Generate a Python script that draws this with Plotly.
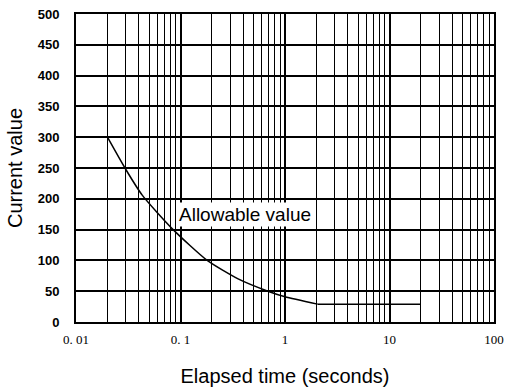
import plotly.graph_objects as go

# Data
curve_time = [0.02, 0.0294, 0.043, 0.085, 0.18, 0.356, 0.687, 1.0, 2.05]
curve_current = [300, 250, 206, 150, 100, 70, 50, 41, 29]
flat_time = [2.05, 20.0]
flat_current = [29, 29]

x_tick_vals = [0.01, 0.1, 1, 10, 100]
x_tick_text = ["0. 01", "0. 1", "1", "10", "100"]
decades = [0.01, 0.1, 1, 10]
minor_mults = [2, 3, 4, 5, 6, 7, 8, 9]
x_minor_vals = [d * m for d in decades for m in minor_mults]
y_tick_vals = [0, 50, 100, 150, 200, 250, 300, 350, 400, 450, 500]

fig = go.Figure()
fig.add_trace(go.Scatter(
    x=curve_time, y=curve_current, mode="lines",
    line=dict(color="black", width=1.5, shape="spline", smoothing=0.6),
    showlegend=False, hoverinfo="skip",
))
fig.add_trace(go.Scatter(
    x=flat_time, y=flat_current, mode="lines",
    line=dict(color="black", width=1.5),
    showlegend=False, hoverinfo="skip",
))

fig.add_annotation(
    x=-0.383, y=174, xref="x", yref="y",
    text="Allowable value", showarrow=False,
    font=dict(family="Liberation Sans, Arial, sans-serif", size=19, color="black"),
    bgcolor="white", borderpad=1,
)

fig.update_layout(
    width=507, height=391,
    margin=dict(l=76, r=13, t=14, b=69),
    paper_bgcolor="white", plot_bgcolor="white",
    xaxis=dict(
        type="log", range=[-2, 2], automargin=False,
        tickvals=x_tick_vals, ticktext=x_tick_text,
        tickfont=dict(family="Liberation Serif, serif", size=13, color="black"),
        showgrid=True, gridcolor="black", gridwidth=1.5,
        minor=dict(tickvals=x_minor_vals, showgrid=True, gridcolor="black", gridwidth=1.3, ticklen=0),
        showline=True, linecolor="black", linewidth=2, mirror=True,
        ticks="", ticklabelstandoff=4,
        zeroline=False,
        title=dict(text="Elapsed time (seconds)", standoff=23,
                   font=dict(family="Liberation Sans, Arial, sans-serif", size=20, color="black")),
    ),
    yaxis=dict(
        range=[0, 500], tickvals=y_tick_vals, automargin=False,
        tickfont=dict(family="Liberation Sans Narrow, Liberation Sans, sans-serif", size=13,
                      color="black", weight="bold"),
        showgrid=True, gridcolor="black", gridwidth=1.5,
        showline=True, linecolor="black", linewidth=2, mirror=True,
        ticks="", ticklabelstandoff=12,
        zeroline=False,
        title=dict(text="Current value", standoff=10,
                   font=dict(family="Liberation Sans, Arial, sans-serif", size=20, color="black")),
    ),
)

# remove the page's default 8px body margin so the figure sits at the window's corner
fig.write_html("out.html", config={"displayModeBar": False},
               post_script="document.body.style.margin='0';")
